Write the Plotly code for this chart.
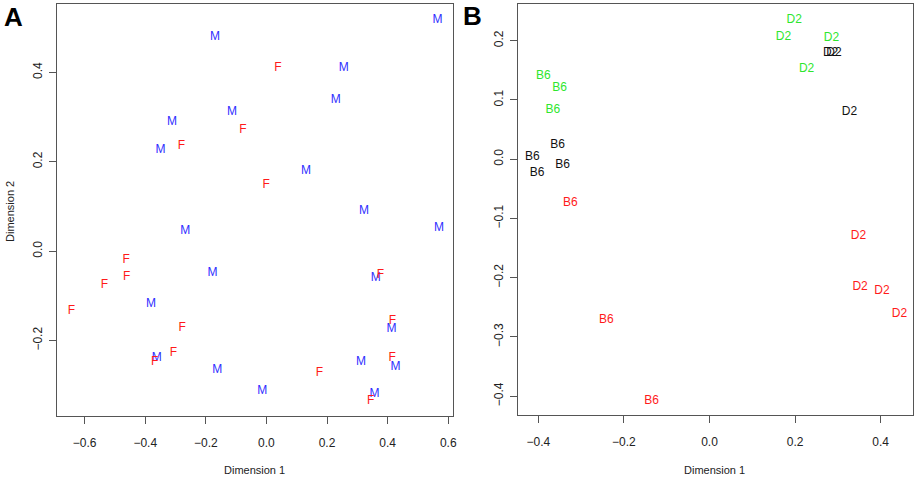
import plotly.graph_objects as go

# Panel A: sex labels (M = blue, F = red)
a_m_x = [0.565, -0.170, 0.255, 0.229, -0.114, -0.312, -0.350, 0.131, 0.322, 0.570, -0.268,
         -0.178, 0.361, -0.381, 0.413, -0.362, -0.162, 0.312, 0.426, -0.014, 0.357]
a_m_y = [0.517, 0.480, 0.409, 0.338, 0.312, 0.289, 0.226, 0.179, 0.090, 0.052, 0.045,
         -0.050, -0.060, -0.119, -0.175, -0.239, -0.265, -0.248, -0.259, -0.313, -0.320]
a_f_x = [0.038, -0.078, -0.281, -0.001, -0.463, -0.461, 0.376, -0.535, -0.644, -0.278,
         0.416, -0.369, -0.307, 0.415, 0.175, 0.344]
a_f_y = [0.409, 0.272, 0.235, 0.149, -0.019, -0.057, -0.054, -0.075, -0.134, -0.172,
         -0.156, -0.249, -0.229, -0.240, -0.272, -0.335]

# Panel B: strain labels, three colour groups
b_green_b6_x = [-0.388, -0.350, -0.366]
b_green_b6_y = [0.141, 0.121, 0.083]
b_green_d2_x = [0.198, 0.173, 0.285, 0.227]
b_green_d2_y = [0.235, 0.207, 0.205, 0.153]
b_black_b6_x = [-0.355, -0.414, -0.343, -0.403]
b_black_b6_y = [0.024, 0.004, -0.010, -0.024]
b_black_d2_x = [0.283, 0.291, 0.327]
b_black_d2_y = [0.180, 0.179, 0.080]
b_red_b6_x = [-0.325, -0.241, -0.135]
b_red_b6_y = [-0.074, -0.272, -0.409]
b_red_d2_x = [0.348, 0.352, 0.403, 0.444]
b_red_d2_y = [-0.129, -0.215, -0.222, -0.261]

a_xticks = [-0.6, -0.4, -0.2, 0.0, 0.2, 0.4, 0.6]
a_yticks = [-0.2, 0.0, 0.2, 0.4]
b_xticks = [-0.4, -0.2, 0.0, 0.2, 0.4]
b_yticks = [-0.4, -0.3, -0.2, -0.1, 0.0, 0.1, 0.2]

BLUE = "#2f2fff"
RED = "#ff1a1a"
GREEN = "#2ee62e"
BLACK = "#111111"
FONT = "Liberation Sans, Arial, sans-serif"


def label_trace(xs, ys, label, color, xaxis, yaxis):
    return go.Scatter(
        x=xs, y=ys, mode="text", text=[label] * len(xs),
        textposition="middle center",
        textfont=dict(family=FONT, size=12, color=color),
        xaxis=xaxis, yaxis=yaxis, showlegend=False, hoverinfo="skip",
    )


fig = go.Figure()
fig.add_trace(label_trace(a_m_x, a_m_y, "M", BLUE, "x", "y"))
fig.add_trace(label_trace(a_f_x, a_f_y, "F", RED, "x", "y"))
fig.add_trace(label_trace(b_green_b6_x, b_green_b6_y, "B6", GREEN, "x2", "y2"))
fig.add_trace(label_trace(b_green_d2_x, b_green_d2_y, "D2", GREEN, "x2", "y2"))
fig.add_trace(label_trace(b_black_b6_x, b_black_b6_y, "B6", BLACK, "x2", "y2"))
fig.add_trace(label_trace(b_black_d2_x, b_black_d2_y, "D2", BLACK, "x2", "y2"))
fig.add_trace(label_trace(b_red_b6_x, b_red_b6_y, "B6", RED, "x2", "y2"))
fig.add_trace(label_trace(b_red_d2_x, b_red_d2_y, "D2", RED, "x2", "y2"))

axis_style = dict(
    showgrid=False, zeroline=False, showline=True, mirror=True,
    linecolor="#555555", linewidth=1.3, ticks="outside", ticklen=7,
    tickcolor="#555555", tickwidth=1.3,
    tickfont=dict(family=FONT, size=12, color="#222222"),
)

fig.update_layout(
    width=923, height=481,
    margin=dict(l=0, r=0, t=0, b=0),
    paper_bgcolor="white", plot_bgcolor="white",
    xaxis=dict(axis_style, domain=[0.0618, 0.493], range=[-0.692, 0.616],
               tickvals=a_xticks, tickformat=".1f", ticklabelstandoff=8, anchor="y"),
    yaxis=dict(axis_style, domain=[0.135, 0.9917], range=[-0.369, 0.553],
               tickvals=a_yticks, tickformat=".1f", tickangle=-90,
               ticklabelstandoff=2, anchor="x"),
    xaxis2=dict(axis_style, domain=[0.5634, 0.9932], range=[-0.448, 0.475],
                tickvals=b_xticks, tickformat=".1f", ticklabelstandoff=8, anchor="y2"),
    yaxis2=dict(axis_style, domain=[0.137, 0.9917], range=[-0.432, 0.262],
                tickvals=b_yticks, tickformat=".1f", tickangle=-90,
                ticklabelstandoff=2, anchor="x2"),
)

title_font = dict(family=FONT, size=11, color="#222222")
centre = dict(xref="paper", yref="paper", xanchor="center", yanchor="middle", showarrow=False)
fig.add_annotation(text="Dimension 1", x=256 / 923, y=1 - 470 / 481, font=title_font, **centre)
fig.add_annotation(text="Dimension 1", x=718 / 923, y=1 - 470 / 481, font=title_font, **centre)
fig.add_annotation(text="Dimension 2", x=10 / 923, y=1 - 211 / 481, textangle=-90,
                   font=title_font, **centre)

panel_font = dict(family=FONT, size=26, color="black")
fig.add_annotation(text="<b>A</b>", x=14 / 923, y=1 - 17 / 481, font=panel_font, **centre)
fig.add_annotation(text="<b>B</b>", x=475 / 923, y=1 - 16 / 481, font=panel_font, **centre)

# drop the browser's default 8px body margin so the figure sits at the page corner
fig.write_html("out.html", config={"displayModeBar": False},
               post_script="document.body.style.margin='0';")
